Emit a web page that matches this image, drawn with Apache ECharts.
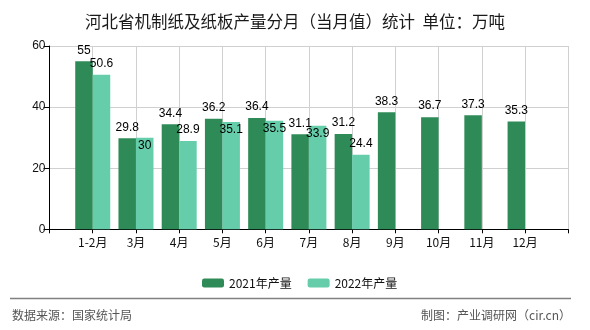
<!DOCTYPE html>
<html>
<head>
<meta charset="utf-8">
<script src="https://cdn.jsdelivr.net/npm/echarts@6/dist/echarts.min.js"></script>
<style>
html,body{margin:0;padding:0;background:#fff;}
#c{width:590px;height:330px;}
</style>
</head>
<body>
<div id="c"></div>
<script>
var months = ['1-2月','3月','4月','5月','6月','7月','8月','9月','10月','11月','12月'];
var output2021 = [55, 29.8, 34.4, 36.2, 36.4, 31.1, 31.2, 38.3, 36.7, 37.3, 35.3];
var output2022 = [50.6, 30, 28.9, 35.1, 35.5, 33.9, 24.4, null, null, null, null];
var yTicks = [0, 20, 40, 60];
var seriesNames = ['2021年产量', '2022年产量'];

var categories = [''].concat(months).concat(['']);
var d2021 = [null].concat(output2021).concat([null]);
var d2022 = [null].concat(output2022.map(function (v, i) {
  if (v == null) return null;
  var close = Math.abs(v - output2021[i]) < 4;
  return close ? { value: v, label: { position: 'insideTop', distance: 2 } } : v;
})).concat([null]);

var cjk = '"Noto Sans CJK SC", "Liberation Sans", sans-serif';
var chart = echarts.init(document.getElementById('c'), null, { renderer: 'canvas' });
chart.setOption({
  animation: false,
  backgroundColor: '#ffffff',
  title: {
    text: '河北省机制纸及纸板产量分月（当月值）统计  单位：万吨',
    left: 'center',
    top: 8,
    textStyle: { fontSize: 16.5, fontWeight: 'normal', color: '#1a1a1a', fontFamily: cjk }
  },
  legend: {
    data: seriesNames,
    left: 197,
    top: 272,
    itemWidth: 22,
    itemHeight: 9,
    itemGap: 16,
    textStyle: { fontSize: 12, color: '#111', fontFamily: cjk }
  },
  grid: { left: 49.5, right: 21.7, top: 46, bottom: 100.7, containLabel: false },
  xAxis: {
    type: 'category',
    data: categories,
    boundaryGap: false,
    axisLine: { lineStyle: { color: '#000', width: 1 } },
    axisTick: { show: true, length: 4, lineStyle: { color: '#000' } },
    axisLabel: { interval: 0, margin: 7, fontSize: 12, color: '#111', fontFamily: cjk },
    splitLine: { show: true, lineStyle: { color: '#d0d0d0', width: 1 } }
  },
  yAxis: {
    type: 'value',
    min: yTicks[0],
    max: yTicks[yTicks.length - 1],
    interval: 20,
    axisLine: { show: true, lineStyle: { color: '#000', width: 1 } },
    axisTick: { show: true, length: 6, lineStyle: { color: '#000' } },
    axisLabel: { margin: 4, fontSize: 12, color: '#111', fontFamily: '"Liberation Sans", Arial, sans-serif' },
    splitLine: { show: true, lineStyle: { color: '#d0d0d0', width: 1 } }
  },
  series: [
    {
      name: seriesNames[0],
      type: 'bar',
      data: d2021,
      barWidth: 17.5,
      barGap: '0%',
      itemStyle: { color: '#2e8b57' },
      label: { show: true, position: 'top', distance: 5, fontSize: 12, color: '#000', fontFamily: '"Liberation Sans", Arial, sans-serif' }
    },
    {
      name: seriesNames[1],
      type: 'bar',
      data: d2022,
      barWidth: 17.5,
      barGap: '0%',
      itemStyle: { color: '#66cdaa' },
      label: { show: true, position: 'top', distance: 5, fontSize: 12, color: '#000', fontFamily: '"Liberation Sans", Arial, sans-serif' }
    }
  ],
  graphic: [
    { type: 'line', shape: { x1: 10, y1: 298.5, x2: 571, y2: 298.5 }, style: { stroke: '#808080', lineWidth: 1.5 } },
    { type: 'text', left: 12, top: 309, style: { text: '数据来源：国家统计局', fontSize: 12, fill: '#555', fontFamily: cjk } },
    { type: 'text', right: 19, top: 309, style: { text: '制图：产业调研网（cir.cn）', fontSize: 12, fill: '#555', fontFamily: cjk } }
  ]
});
</script>
</body>
</html>
